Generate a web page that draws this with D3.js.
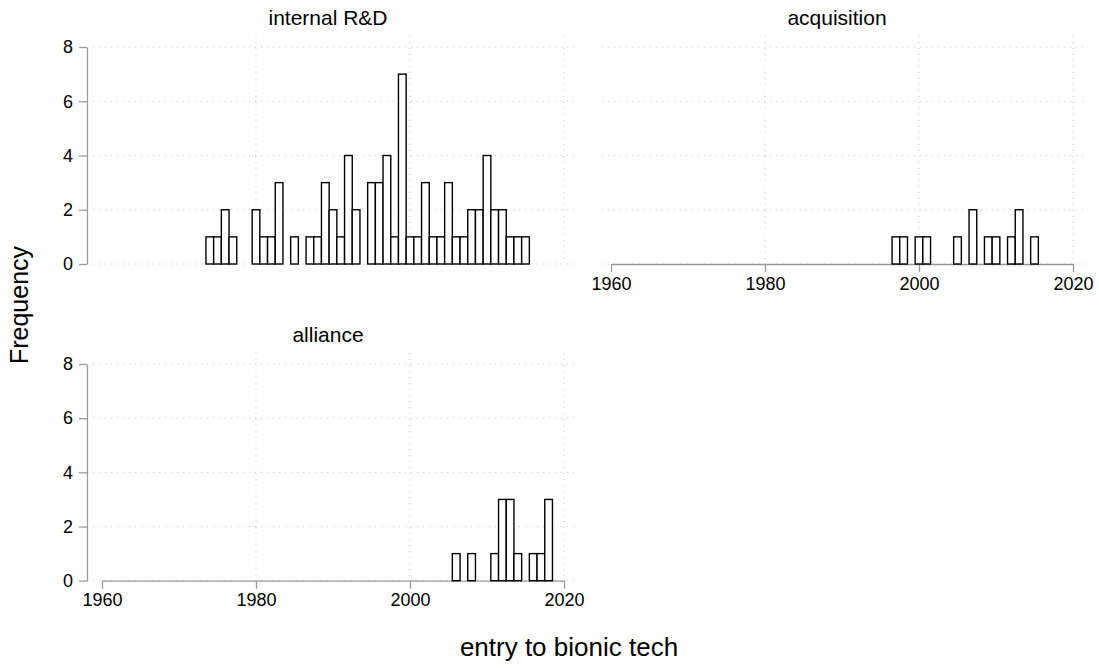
<!DOCTYPE html>
<html>
<head>
<meta charset="utf-8">
<script src="https://cdn.jsdelivr.net/npm/d3@7"></script>
<style>
  body { margin: 0; background: #fff; }
  svg { display: block; font-family: "Liberation Sans", Arial, Helvetica, sans-serif; }
</style>
</head>
<body>
<svg id="chart" width="1099" height="668"></svg>
<script>
// histogram counts per entry year (bins of one year)
const rdYears = [1974, 1975, 1976, 1977, 1980, 1981, 1982, 1983, 1985, 1987, 1988, 1989, 1990, 1991, 1992, 1993,
    1995, 1996, 1997, 1998, 1999, 2000, 2001, 2002, 2003, 2004, 2005, 2006, 2007, 2008, 2009, 2010, 2011, 2012,
    2013, 2014, 2015];
const rdCounts = [1, 1, 2, 1, 2, 1, 1, 3, 1, 1, 1, 3, 2, 1, 4, 2,
    3, 3, 4, 1, 7, 1, 1, 3, 1, 1, 3, 1, 1, 2, 2, 4, 2, 2,
    1, 1, 1];

const acqYears = [1997, 1998, 2000, 2001, 2005, 2007, 2009, 2010, 2012, 2013, 2015];
const acqCounts = [1, 1, 1, 1, 1, 2, 1, 1, 1, 2, 1];

const allYears = [2006, 2008, 2011, 2012, 2013, 2014, 2016, 2017, 2018];
const allCounts = [1, 1, 1, 3, 3, 1, 1, 1, 3];

const xTicks = [1960, 1980, 2000, 2020];
const xGrid = [1980, 2000, 2020];
const yTicks = [0, 2, 4, 6, 8];

const panels = [
    { title: 'internal R&D', years: rdYears, counts: rdCounts, x0: 102, x1: 564, yBase: 264, yTop: 47, yAxis: true, xAxis: false },
    { title: 'acquisition', years: acqYears, counts: acqCounts, x0: 611, x1: 1073, yBase: 264, yTop: 47, yAxis: false, xAxis: true },
    { title: 'alliance', years: allYears, counts: allCounts, x0: 102, x1: 564, yBase: 580.7, yTop: 364, yAxis: true, xAxis: true }
];

const svg = d3.select('#chart');
const axisColor = '#9a9a9a';
const gridColor = '#c4c4c4';

panels.forEach(p => {
    const x = d3.scaleLinear().domain([1960, 2020]).range([p.x0, p.x1]);
    const y = d3.scaleLinear().domain([0, 8]).range([p.yBase, p.yTop]);
    const g = svg.append('g');
    const data = p.years.map((yr, i) => ({ year: yr, count: p.counts[i] }));

    // dotted grid
    g.selectAll('line.hgrid')
        .data(yTicks)
        .enter()
        .append('line')
        .attr('x1', x(1960) - 9)
        .attr('x2', x(2020) + 10)
        .attr('y1', d => y(d))
        .attr('y2', d => y(d))
        .attr('stroke', gridColor)
        .attr('stroke-width', 1)
        .attr('stroke-dasharray', '1,5');

    g.selectAll('line.vgrid')
        .data(xGrid)
        .enter()
        .append('line')
        .attr('x1', d => x(d))
        .attr('x2', d => x(d))
        .attr('y1', y(8) - 11)
        .attr('y2', y(0))
        .attr('stroke', gridColor)
        .attr('stroke-width', 1)
        .attr('stroke-dasharray', '1,5');

    // x axis
    if (p.xAxis) {
        const xa = g.append('g')
            .attr('transform', `translate(0, ${y(0)})`)
            .call(d3.axisBottom(x).tickValues(xTicks).tickFormat(d3.format('d')).tickSize(8).tickSizeOuter(0).tickPadding(5));
        xa.select('.domain').attr('stroke', axisColor).attr('stroke-width', 1.3);
        xa.selectAll('.tick line').attr('stroke', axisColor).attr('stroke-width', 1.3);
        xa.selectAll('.tick text')
            .attr('fill', '#000')
            .style('font-size', '18px')
            .style('font-family', '"Liberation Sans", Arial, sans-serif');
    }

    // y axis
    if (p.yAxis) {
        const ya = g.append('g')
            .attr('transform', `translate(87, 0)`)
            .call(d3.axisLeft(y).tickValues(yTicks).tickSize(8).tickSizeOuter(0).tickPadding(6));
        ya.select('.domain').attr('stroke', axisColor).attr('stroke-width', 1.3);
        ya.selectAll('.tick line').attr('stroke', axisColor).attr('stroke-width', 1.3);
        ya.selectAll('.tick text')
            .attr('fill', '#000')
            .style('font-size', '18px')
            .style('font-family', '"Liberation Sans", Arial, sans-serif');
    }

    // bars
    g.selectAll('rect.bar')
        .data(data)
        .enter()
        .append('rect')
        .attr('class', 'bar')
        .attr('x', d => x(d.year - 0.5))
        .attr('y', d => y(d.count))
        .attr('width', d => x(d.year + 0.5) - x(d.year - 0.5))
        .attr('height', d => y(0) - y(d.count))
        .attr('fill', '#fff')
        .attr('stroke', '#000')
        .attr('stroke-width', 1.4);

    // panel title
    g.append('text')
        .attr('x', (p.x0 + p.x1) / 2 - 5)
        .attr('y', p.yTop - 22)
        .attr('text-anchor', 'middle')
        .style('font-size', '21px')
        .text(p.title);
});

svg.append('text')
    .attr('transform', 'translate(28, 305) rotate(-90)')
    .attr('text-anchor', 'middle')
    .style('font-size', '25px')
    .text('Frequency');

svg.append('text')
    .attr('x', 569)
    .attr('y', 656)
    .attr('text-anchor', 'middle')
    .style('font-size', '26px')
    .text('entry to bionic tech');
</script>
</body>
</html>
